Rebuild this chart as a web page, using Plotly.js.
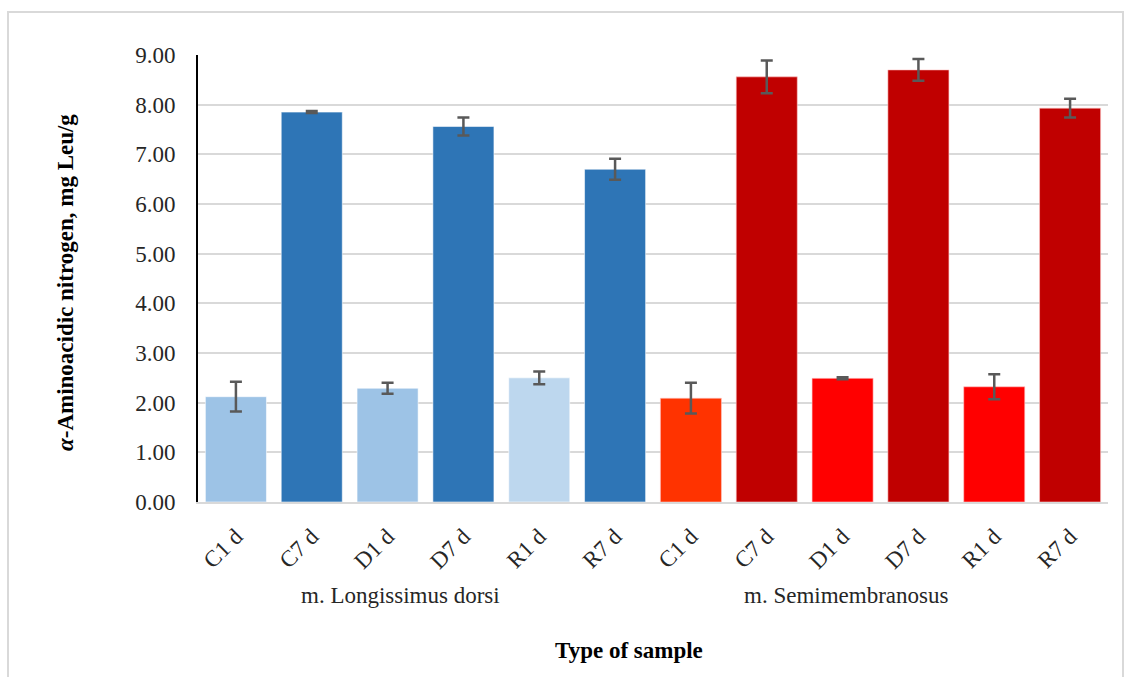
<!DOCTYPE html>
<html>
<head>
<meta charset="utf-8">
<script src="https://cdn.plot.ly/plotly-3.0.1.min.js"></script>
<style>
  html, body { margin: 0; padding: 0; background: #ffffff; }
  #chart { width: 1131px; height: 677px; }
</style>
</head>
<body>
<div id="chart"></div>
<script>
// ---- data ----
const muscles = ["m. Longissimus dorsi", "m. Semimembranosus"];
const samples = ["C1 d", "C7 d", "D1 d", "D7 d", "R1 d", "R7 d"];
const ldValues = [2.12, 7.85, 2.29, 7.56, 2.50, 6.70];
const ldErrors = [0.30, 0.02, 0.11, 0.18, 0.13, 0.21];
const smValues = [2.09, 8.56, 2.49, 8.70, 2.32, 7.93];
const smErrors = [0.31, 0.33, 0.02, 0.22, 0.25, 0.19];
const yTicks = [0, 1, 2, 3, 4, 5, 6, 7, 8, 9];

// ---- styles ----
const ldColors = ["#9DC3E6", "#2E75B6", "#9DC3E6", "#2E75B6", "#BDD7EE", "#2E75B6"];
const smColors = ["#FF3300", "#C00000", "#FF0000", "#C00000", "#FF0000", "#C00000"];
const FONT = "Liberation Serif";

const ldX = samples.map((_, i) => i);
const smX = samples.map((_, i) => i + samples.length);
const allLabels = samples.concat(samples);
const allX = ldX.concat(smX);

function barTrace(x, y, err, colors, name, lineCol) {
  return {
    type: "bar", x: x, y: y, name: name,
    marker: { color: colors, line: { color: lineCol, width: 1 } },
    error_y: { type: "data", array: err, visible: true, color: "#595959", thickness: 2.5, width: 6 },
    hoverinfo: "x+y"
  };
}

const data = [
  barTrace(ldX, ldValues, ldErrors, ldColors, muscles[0], "rgba(255,255,255,0.55)"),
  barTrace(smX, smValues, smErrors, smColors, muscles[1], "rgba(255,200,200,0.6)")
];

const L = 198, R = 1108, T = 55, B = 502;
const pw = R - L, ph = B - T;
const px = v => (v - L) / pw;
const py = v => (B - v) / ph;

const layout = {
  width: 1131, height: 677,
  margin: { l: L, r: 1131 - R, t: T, b: 677 - B, pad: 0 },
  paper_bgcolor: "#ffffff", plot_bgcolor: "#ffffff",
  showlegend: false,
  barmode: "overlay",
  bargap: 0.195,
  font: { family: FONT, color: "#262626", size: 22 },
  xaxis: {
    range: [-0.5, allX.length - 0.5],
    tickvals: allX, ticktext: allLabels,
    tickangle: -45,
    tickfont: { family: FONT, size: 23, color: "#262626" },
    showgrid: false, zeroline: false,
    showline: true, linecolor: "#D9D9D9", linewidth: 2,
    ticks: "outside", ticklen: 10, tickcolor: "rgba(0,0,0,0)",
    fixedrange: true
  },
  yaxis: {
    range: [0, 9],
    tickvals: yTicks, ticktext: yTicks.map(v => v.toFixed(2)),
    tickfont: { family: FONT, size: 23, color: "#262626" },
    showgrid: true, gridcolor: "#D9D9D9", gridwidth: 2,
    zeroline: false,
    showline: true, linecolor: "#000000", linewidth: 2,
    ticks: "outside", ticklen: 16, tickcolor: "rgba(0,0,0,0)",
    fixedrange: true
  },
  annotations: [
    { text: muscles[0], xref: "paper", yref: "paper", x: px(400), y: py(595),
      xanchor: "center", yanchor: "middle", showarrow: false,
      font: { family: FONT, size: 23, color: "#262626" } },
    { text: muscles[1], xref: "paper", yref: "paper", x: px(846), y: py(595),
      xanchor: "center", yanchor: "middle", showarrow: false,
      font: { family: FONT, size: 23, color: "#262626" } },
    { text: "<b>Type of sample</b>", xref: "paper", yref: "paper", x: px(629), y: py(650),
      xanchor: "center", yanchor: "middle", showarrow: false,
      font: { family: FONT, size: 23, color: "#000000" } },
    { text: "<b><i>α</i>-Aminoacidic nitrogen, mg Leu/g</b>", xref: "paper", yref: "paper",
      x: px(65), y: py(283), textangle: -90,
      xanchor: "center", yanchor: "middle", showarrow: false,
      font: { family: FONT, size: 23, color: "#000000" } }
  ],
  shapes: [
    { type: "rect", xref: "paper", yref: "paper",
      x0: px(8), x1: px(1123), y0: py(720), y1: py(12),
      line: { color: "#D9D9D9", width: 2 }, fillcolor: "rgba(0,0,0,0)", layer: "below" }
  ]
};

Plotly.newPlot("chart", data, layout, { displayModeBar: false, staticPlot: true });
</script>
</body>
</html>
